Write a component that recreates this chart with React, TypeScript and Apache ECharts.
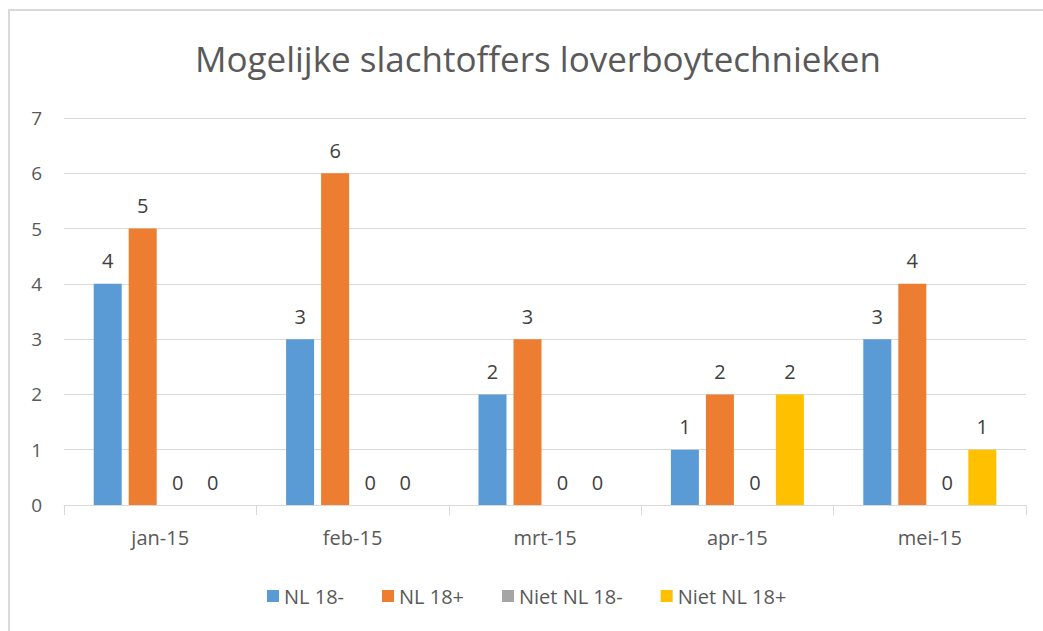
import React, { useEffect, useRef } from "react";
import * as echarts from "echarts";

const categories = ["jan-15", "feb-15", "mrt-15", "apr-15", "mei-15"];
const seriesNames = ["NL 18-", "NL 18+", "Niet NL 18-", "Niet NL 18+"];
const nl18min = [4, 3, 2, 1, 3];
const nl18plus = [5, 6, 3, 2, 4];
const nietNl18min = [0, 0, 0, 0, 0];
const nietNl18plus = [0, 0, 0, 2, 1];
const colors = ["#5b9bd5", "#ed7d31", "#a5a5a5", "#ffc000"];

const FONT = "Open Sans";

export default function App() {
  const ref = useRef<HTMLDivElement>(null);
  useEffect(() => {
    if (!ref.current) return;
    const chart = echarts.init(ref.current, undefined, { renderer: "svg" });
    const values = [nl18min, nl18plus, nietNl18min, nietNl18plus];
    chart.setOption({
      animation: false,
      backgroundColor: "#ffffff",
      title: {
        text: "Mogelijke slachtoffers loverboytechnieken",
        left: 190,
        top: 36,
        textStyle: { fontFamily: FONT, fontSize: 35, fontWeight: "normal", color: "#595959" },
      },
      graphic: [
        {
          type: "rect",
          shape: { x: 9, y: 10, width: 1200, height: 800 },
          style: { fill: "none", stroke: "#d9d9d9", lineWidth: 2 },
          silent: true,
        },
      ],
      legend: {
        data: seriesNames,
        bottom: 20,
        left: 262,
        itemWidth: 12,
        itemHeight: 12,
        itemGap: 38,
        icon: "rect",
        textStyle: { fontFamily: FONT, fontSize: 20, color: "#595959" },
      },
      grid: { left: 64, right: 17, top: 118, bottom: 126, containLabel: false },
      xAxis: {
        type: "category",
        data: categories,
        axisLine: { lineStyle: { color: "#d9d9d9", width: 1 } },
        axisTick: { show: true, length: 10, lineStyle: { color: "#d9d9d9" } },
        axisLabel: { fontFamily: FONT, fontSize: 20, color: "#595959", margin: 22 },
      },
      yAxis: {
        type: "value",
        min: 0,
        max: 7,
        interval: 1,
        axisLine: { show: false },
        axisTick: { show: false },
        splitLine: { lineStyle: { color: "#d9d9d9", width: 1 } },
        axisLabel: { fontFamily: FONT, fontSize: 19, color: "#595959", margin: 22 },
      },
      series: seriesNames.map((name, i) => ({
        name,
        type: "bar",
        data: values[i],
        barWidth: 28,
        barGap: "25%",
        itemStyle: { color: colors[i] },
        label: {
          show: true,
          position: "top",
          distance: 13,
          fontFamily: FONT,
          fontSize: 20,
          color: "#404040",
        },
      })),
    });
    return () => chart.dispose();
  }, []);
  return (
    <div
      ref={ref}
      style={{ position: "fixed", left: 0, top: 0, width: 1043, height: 631 }}
    />
  );
}
